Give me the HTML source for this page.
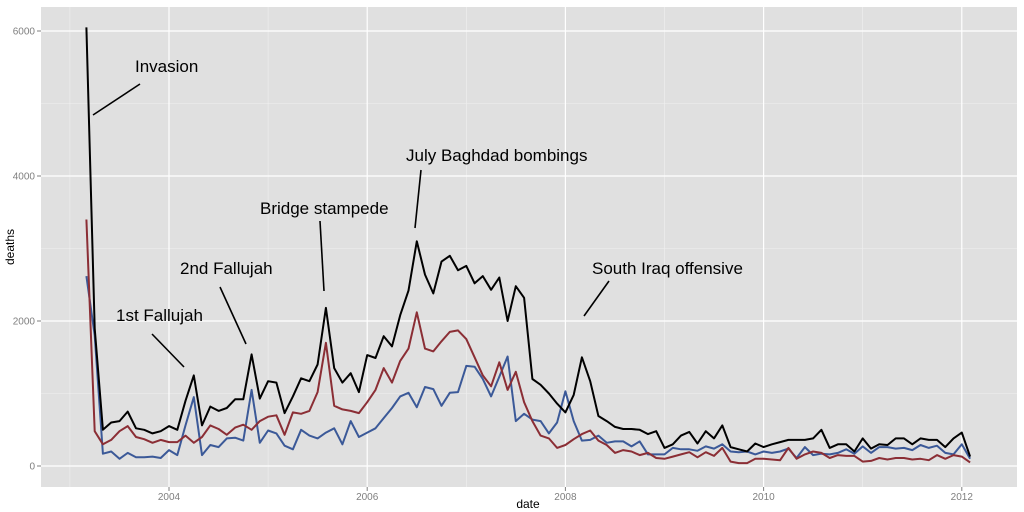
<!DOCTYPE html>
<html><head><meta charset="utf-8"><style>
body{margin:0;background:#fff;}
svg{display:block;font-family:"Liberation Sans",sans-serif;}
</style></head><body>
<svg id="chart" width="1024" height="512"></svg>
<script>
const totalDeaths=[6050,1900,500,600,620,750,520,500,450,480,
550,500,900,1250,560,820,760,800,920,920,1540,930,
1170,1150,730,960,1210,1170,1400,2180,1350,1150,1280,1020,
1530,1490,1790,1650,2080,2420,3100,2640,2380,2820,2900,2700,
2760,2520,2620,2430,2600,2000,2480,2320,1200,1120,1000,860,
740,980,1500,1170,690,620,540,510,510,500,440,480,
250,300,420,470,310,480,380,560,260,230,200,310,
260,300,330,360,360,360,380,500,250,300,300,200,
380,240,300,290,380,380,300,380,360,360,260,380,
460,130];
const redSeries=[3400,480,300,360,480,550,400,370,320,360,
330,330,420,320,400,560,510,430,530,570,500,620,
680,700,430,740,720,760,1020,1700,830,780,760,730,
880,1050,1350,1150,1450,1620,2120,1620,1580,1720,1850,1870,
1750,1500,1250,1100,1430,1050,1300,880,620,420,380,250,
290,370,440,490,350,290,180,220,200,150,180,110,
100,130,160,190,120,190,140,250,60,40,40,100,
100,90,80,250,100,160,200,180,110,150,140,140,
60,70,110,90,110,110,90,100,80,150,100,150,
130,50];
const blueSeries=[2620,1800,170,200,100,180,120,120,130,110,
220,150,560,950,150,290,260,380,390,350,1050,320,
490,450,280,230,500,420,380,460,520,300,620,400,
460,520,660,800,960,1010,810,1090,1060,830,1010,1020,
1380,1370,1200,960,1230,1510,620,720,640,620,450,600,
1030,620,350,360,420,320,340,340,270,340,160,160,
160,250,230,230,210,270,240,300,200,190,200,160,
200,180,200,240,110,260,150,170,160,180,230,170,
270,180,260,260,240,250,220,290,250,280,180,160,
300,100];
const yTicks=[0,2000,4000,6000];
const xTicks=[2004,2006,2008,2010,2012];
const startYear=2003, startMonth=2; // March 2003 (0-based month)

const NS='http://www.w3.org/2000/svg';
const svg=document.getElementById('chart');
const L=41,T=7,R=1017,B=487;
const xs=y=>169+(y-2004)*99.1;
const xm=i=>xs(startYear+(startMonth+i)/12);
const ys=v=>466-v*145/2000;
function el(t,a,p){const e=document.createElementNS(NS,t);for(const k in a)e.setAttribute(k,a[k]);(p||svg).appendChild(e);return e;}

const panel=el('rect',{x:L,y:T,width:R-L,height:B-T,fill:'#e0e0e0'});


// minor grid
for(let v=1000;v<=7000;v+=2000){if(ys(v)>T){const g=el('line',{x1:L,x2:R,y1:ys(v),y2:ys(v),stroke:'#f0f0f0','stroke-width':0.6});}}
for(let yr=2003;yr<=2013;yr+=2){const x=xs(yr);if(x>L&&x<R){const g=el('line',{x1:x,x2:x,y1:T,y2:B,stroke:'#f0f0f0','stroke-width':0.6});}}
yTicks.forEach(v=>{
 const g=el('line',{x1:L,x2:R,y1:ys(v),y2:ys(v),stroke:'#fff','stroke-width':1.2});
 
 
 el('line',{x1:L-4,x2:L,y1:ys(v),y2:ys(v),stroke:'#7f7f7f'});
 const t=el('text',{x:L-6,y:ys(v)+3.5,'text-anchor':'end','font-size':10,fill:'#7f7f7f'});t.textContent=v;
 
 
});
xTicks.forEach(yr=>{
 const x=xs(yr);
 const g=el('line',{x1:x,x2:x,y1:T,y2:B,stroke:'#fff','stroke-width':1.2});
 
 
 el('line',{x1:x,x2:x,y1:B,y2:B+4,stroke:'#7f7f7f'});
 const t=el('text',{x:x,y:B+13,'text-anchor':'middle','font-size':10,fill:'#7f7f7f'});t.textContent=yr;
 
 
});
function line(data,color,name){
 const p=el('polyline',{points:data.map((v,i)=>xm(i).toFixed(1)+','+ys(v).toFixed(1)).join(' '),fill:'none',stroke:color,'stroke-width':2,'stroke-linejoin':'round'});
 
 
}
line(blueSeries,'#3b5998','blue-series-line');
line(redSeries,'#8b2e35','red-series-line');
line(totalDeaths,'#000','total-deaths-line');

const anns=[["Invasion",135,72,140,84,93,115],["1st Fallujah",116,321,152,334,184,367],["2nd Fallujah",180,274,220,287,246,344],["Bridge stampede",260,214,320,221,324,291],["July Baghdad bombings",406,161,421,170,415,228],["South Iraq offensive",592,274,609,281,584,316]];
anns.forEach(a=>{
 const t=el('text',{x:a[1],y:a[2],'font-size':17,fill:'#000'});t.textContent=a[0];
 
 
 const l=el('line',{x1:a[3],y1:a[4],x2:a[5],y2:a[6],stroke:'#000','stroke-width':1.6});
 
 
});
const xt=el('text',{x:528,y:508,'text-anchor':'middle','font-size':12,fill:'#000'});xt.textContent='date';


const yt=el('text',{x:14,y:247,'text-anchor':'middle','font-size':12,fill:'#000',transform:'rotate(-90 14 247)'});yt.textContent='deaths';


</script>
</body></html>
